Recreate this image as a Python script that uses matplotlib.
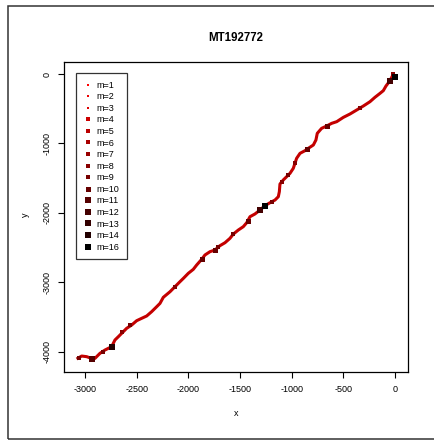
import matplotlib
matplotlib.use("Agg")
import matplotlib.pyplot as plt
from matplotlib.lines import Line2D
from matplotlib.patches import Rectangle

plt.rcParams['font.family'] = ['Liberation Sans', 'DejaVu Sans']

# walk path (data units)
path_x = [0, -16, -48, -87, -113, -145, -194, -242, -306, -371, -435, -500,
          -564, -613, -661, -710, -752, -765, -790, -839, -871, -919, -952,
          -968, -984, -1016, -1048, -1081, -1113, -1119, -1129, -1161, -1210,
          -1258, -1306, -1355, -1403, -1435, -1468, -1516, -1564, -1597, -1645,
          -1694, -1742, -1790, -1839, -1871, -1919, -1952, -2000, -2048, -2081,
          -2129, -2177, -2242, -2274, -2306, -2355, -2403, -2452, -2500, -2548,
          -2597, -2629, -2677, -2710, -2742, -2806, -2855, -2903, -2919, -2984,
          -3032, -3081]
path_y = [-38, 0, -96, -173, -240, -279, -336, -399, -461, -519, -576, -625,
          -687, -711, -749, -783, -855, -951, -1023, -1071, -1105, -1143, -1215,
          -1287, -1359, -1431, -1479, -1527, -1585, -1696, -1768, -1816, -1855,
          -1897, -1960, -2017, -2056, -2143, -2200, -2248, -2306, -2368, -2431,
          -2474, -2536, -2560, -2608, -2671, -2752, -2815, -2872, -2945, -2993,
          -3065, -3137, -3218, -3305, -3353, -3425, -3487, -3521, -3555, -3617,
          -3665, -3713, -3785, -3833, -3929, -3977, -4025, -4097, -4107, -4073,
          -4064, -4107]

# positions with higher multiplicity m
hi_x = [-3058, -2935, -2823, -2742, -2645, -2564, -2129, -1871, -1742, -1710,
        -1564, -1419, -1306, -1258, -1194, -1097, -1032, -968, -855, -661,
        -339, -48, -16, 0]
hi_y = [-4097, -4107, -4001, -3929, -3713, -3617, -3065, -2671, -2536, -2488,
        -2306, -2114, -1960, -1897, -1840, -1552, -1455, -1287, -1086, -749,
        -485, -96, 0, -38]
hi_m = [9, 11, 9, 14, 8, 9, 8, 10, 10, 9, 9, 10, 12, 16, 9, 8, 9, 8, 10, 10,
        8, 12, 8, 16]

m_levels = [1, 2, 3, 4, 5, 6, 7, 8, 9, 10, 11, 12, 13, 14, 16]
m_colors = ['#FF0000', '#EE0000', '#DD0000', '#CC0000', '#BB0000', '#AA0000',
            '#990000', '#880000', '#770000', '#660000', '#550000', '#440000',
            '#330000', '#220000', '#000000']
m_sizes = [1.9, 2.0, 2.1, 2.2, 2.7, 2.8, 2.9, 3.0, 3.5, 3.6, 3.7, 3.8, 3.9,
           4.5, 4.7]

x_ticks = [-3000, -2500, -2000, -1500, -1000, -500, 0]
y_ticks = [0, -1000, -2000, -3000, -4000]

fig = plt.figure(figsize=(4.35, 4.41), dpi=100)
ax = fig.add_axes([64 / 435, 1 - 372 / 441, 344 / 435, 310 / 441])

ax.plot(path_x, path_y, color='#C40000', lw=2.2, solid_joinstyle='round',
        solid_capstyle='butt', zorder=2)
for x, y, m in zip(hi_x, hi_y, hi_m):
    i = m_levels.index(m)
    ax.plot([x], [y], 's', color=m_colors[i], ms=m_sizes[i], mew=0, zorder=3)

ax.set_xlim(-3203, 126)
ax.set_ylim(-4294, 173)
ax.set_xticks(x_ticks)
ax.set_xticklabels([str(v) for v in x_ticks])
ax.set_yticks(y_ticks)
ax.set_yticklabels([str(v) for v in y_ticks], rotation=90, va='center')
ax.tick_params(direction='out', length=4, width=0.8, labelsize=6.5, pad=5)
for s in ax.spines.values():
    s.set_linewidth(0.9)

fig.text(236 / 435, 1 - 38 / 441, 'MT192772', ha='center', va='center',
         fontsize=8.3, fontweight='bold')
fig.text(236 / 435, 1 - 413 / 441, 'x', ha='center', va='center', fontsize=6.5)
fig.text(25 / 435, 1 - 215 / 441, 'y', ha='center', va='center', fontsize=6.5,
         rotation=90)

handles = [Line2D([], [], ls='none', marker='s', color=c, ms=s, mew=0)
           for c, s in zip(m_colors, m_sizes)]
leg = ax.legend(handles, ['m=%d' % m for m in m_levels], loc='upper left',
                bbox_to_anchor=((76.5 - 64) / 344, (372 - 73) / 310),
                fontsize=6.5, frameon=True, fancybox=False, borderaxespad=0,
                handlelength=0.8, handletextpad=0.6, labelspacing=0.285,
                borderpad=0.85)
leg.get_frame().set_edgecolor('black')
leg.get_frame().set_linewidth(0.9)

fig.patches.append(Rectangle((8 / 435, 1 - 439 / 441), 1.0, 433 / 441,
                             transform=fig.transFigure, fill=False,
                             edgecolor='#333333', lw=1.1))

fig.savefig('out.png', dpi=100)
